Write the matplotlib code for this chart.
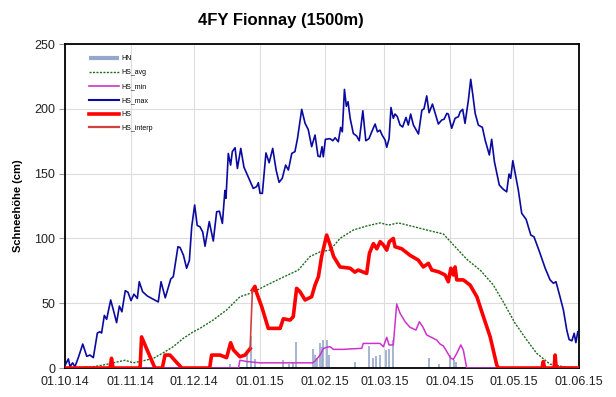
import numpy as np
import matplotlib
matplotlib.use("Agg")
import matplotlib.pyplot as plt

plt.rcParams['font.family'] = ['Liberation Sans', 'DejaVu Sans']

# days since 01.10.2014
month_days = [0, 31, 61, 92, 123, 151, 182, 212, 243]
month_labels = ['01.10.14', '01.11.14', '01.12.14', '01.01.15', '01.02.15',
                '01.03.15', '01.04.15', '01.05.15', '01.06.15']

hn_day = [78, 86.2, 87.8, 89.8, 102.9, 106, 107.9, 109.2, 117.4, 118.2, 119, 120.6,
          121.3, 122.1, 123.7, 125, 137.1, 143.9, 145.8, 147.1, 148.9, 151.8, 153.3,
          155.2, 172, 177, 182, 183.9, 184.9]
hn = [3, 11, 25, 7, 6, 3, 5, 20, 15, 10, 8, 19, 16, 22, 22, 10, 5, 17, 8, 9, 10, 14,
      15, 22, 8, 3, 10, 6, 5]

avg_day = [0, 13.4, 18, 22.8, 28.4, 32.3, 37, 41.8, 46.5, 51.2, 56, 60.7, 63.8, 70,
           76.4, 82.7, 88.3, 95.4, 101.7, 110.3, 115.8, 120.6, 125.3, 130, 136.3,
           142.6, 149, 152.9, 157.6, 166.3, 171, 178.9, 183.6, 189.9, 196.6, 202.5,
           207.2, 212.6, 218.3, 223, 229.3, 235.6, 243]
hs_avg = [0, 1, 2.3, 4, 6, 4, 5.6, 7.5, 11.8, 16.5, 23, 28, 30.6, 37, 44.8, 55, 58,
          64, 69, 75.6, 86, 89.7, 91, 100, 106.5, 109.6, 112, 110.3, 112, 108.5,
          106.5, 103.4, 95, 84, 75, 64, 51, 35, 21.6, 11.3, 3, 1, 0.3]

min_day = [0, 82, 82.7, 85.9, 92.2, 117, 118, 120.6, 122.1, 123.7, 125.3, 126.9,
           131.6, 140.3, 141, 148.9, 150.5, 152.1, 153.2, 155.2, 156.8, 158.4, 160.8,
           163.1, 165.9, 167.5, 169.1, 171, 175.7, 177.3, 178.9, 180.8, 182.4, 183.6,
           185.2, 187.1, 188.3, 189.9, 243]
hs_min = [0, 0, 6, 5, 4, 4, 5, 10, 15, 16, 16.5, 14.4, 14.4, 15.2, 19, 19, 16.4,
          23.7, 17.8, 17.8, 49.4, 42.2, 35.7, 31.4, 29.3, 35.7, 31.9, 25.5, 21.6,
          18.5, 17, 11.8, 7.5, 6.7, 11.3, 17.8, 13.9, 0, 0]

max_day = [0, 1.6, 2.4, 3.6, 4.7, 6.3, 8.4, 10.3, 11.8, 13.4, 15.3, 16.5, 17.3, 18.6,
           19.7, 21.6, 23.2, 24.4, 25.7, 26.9, 28.5, 29.8, 31.2, 32.6, 34.2, 35.1,
           36.7, 38.9, 41, 44.1, 45.4, 47.4, 50, 51.2, 53.4, 54.4, 56, 57.5, 58.8,
           59.9, 61.3, 62.5, 63.8, 65.1, 66.2, 68.2, 70.1, 71.7, 73, 74.4, 75.6, 76.1,
           77.2, 78.3, 79.1, 80.4, 81.5, 83.1, 84.6, 86.2, 89, 90.6, 91.4, 92.2, 93.3,
           95, 96.5, 98.2, 99.8, 101.2, 102.7, 104.3, 105.6, 107.2, 108.7, 109.9,
           111.9, 113.5, 115, 116.6, 118.2, 119.6, 120.6, 121.5, 122.1, 123.1, 125.3,
           126.6, 127.7, 129.2, 130.3, 131.1, 132.1, 133, 133.8, 134.8, 136.3, 137.9,
           139.1, 140.8, 142.2, 143.7, 145, 146.6, 147.7, 148.9, 149.9, 151.3, 152.1,
           153.2, 154.1, 155.2, 156, 157.1, 158.4, 159.6, 161.2, 162.3, 163.4, 164.7,
           167.1, 168.7, 169.7, 171, 172.1, 173.7, 175.3, 176.5, 178.1, 179.2, 180.5,
           181.2, 182.8, 184.4, 186, 186.8, 188, 189.1, 190.7, 191.8, 192.8, 193.9,
           195.4, 197.3, 198.6, 200.6, 201.7, 203, 205.3, 207.2, 208.8, 209.9, 210.7,
           211.7, 213.1, 214.3, 215.9, 218, 220.2, 221.7, 224.3, 227, 229.3, 230.9,
           232.1, 234, 235.6, 237.2, 238.3, 239.6, 240.7, 241.5, 242.4]
hs_max = [2, 7, 1, 4, 1, 8, 18.5, 9, 10, 8, 27, 28, 27, 40.6, 37.6, 52.5, 42.7, 35,
          47.8, 43.4, 59.7, 58.4, 52, 57, 53.7, 66.6, 58.9, 55.6, 53.7, 51, 66.6, 54.2,
          68.7, 70.5, 93.6, 93, 87, 77, 83, 109, 125.8, 110, 109, 105, 94, 113, 98,
          120.6, 121, 111.6, 137, 131, 165.6, 156.6, 167, 170, 154, 169.5, 155, 149,
          138.6, 140, 143, 134.8, 134.8, 166, 158.4, 169.5, 152.8, 143.3, 146.4, 156.6,
          152.8, 165.6, 167, 177, 199.6, 188.8, 184, 170.8, 179.8, 163.6, 163, 170.8,
          163, 176.5, 177, 175.4, 177.7, 174.6, 185.7, 182.3, 215, 202, 205.5, 192.7,
          181, 179, 175.4, 198.5, 175.4, 177, 182.3, 188.3, 182.3, 183.6, 179.8, 176,
          170.3, 177, 201, 192.7, 196, 194, 187.5, 186, 193.4, 187.5, 196, 187.5,
          180.6, 199, 200, 210, 197, 203.7, 195, 188.3, 191.4, 192, 196.5, 196, 185,
          192.7, 194, 197.8, 199.6, 188.8, 206.8, 222.8, 210.6, 196.5, 187.5, 185.7,
          176, 164.4, 176.5, 159.2, 141.2, 137.9, 136, 149.7, 146.4, 160, 147.6,
          137.3, 119.4, 114.7, 102.6, 101.3, 89.7, 77, 68, 65.4, 66.6, 55, 44.8, 29.3,
          22, 21, 26.8, 19.6, 28]

hs_day = [0, 21.3, 22, 22.7, 35.5, 36.2, 42.5, 46, 47.3, 49.6, 55.2, 68.4, 69.3, 73.3,
          76.4, 78.3, 79.6, 82.7, 85.1, 87.5, np.nan, 88.6, 89.8, 90.6, 93, 96.1,
          101.7, 103.2, 106.4, 107.9, 109.5, 111.1, 113.5, 116.6, 118.2, 119.8, 121.3,
          123.7, 125.3, 127, 130, 134.8, 137, 138.6, 142.6, 143.9, 145.8, 147.4, 149,
          150.5, 152.1, 153.3, 155.2, 156, 159.2, 163.1, 167, 169.4, 171.8, 173.4,
          176.5, 179.7, 181.2, 182.4, 183.6, 184.4, 185.2, 188.3, 191.5, 194.7, 197.8,
          201, 204.1, 204.9, 225.5, 226.1, 226.7, 231.2, 231.7, 232.2, 243]
hs = [0, 0, 7.5, 0, 0, 24, 0, 0, 10, 10, 0, 0, 10, 10, 8, 19.5, 14, 8.7, 10, 15,
      np.nan, 60, 63, 58, 47.3, 30.6, 30.6, 38, 37, 39.6, 61.5, 58.9, 52.5, 55, 64,
      70.5, 86, 102.6, 95, 86, 78, 77, 74, 75.6, 73, 88.5, 96, 92, 97.5, 95, 91, 97.5,
      100, 93.6, 92, 87, 83.3, 78, 80.8, 75.6, 74.3, 71.8, 66.6, 77, 71.8, 78, 68, 68,
      64, 55, 39.6, 24, 2.3, 0, 0, 5, 0, 0, 10, 0, 0]

interp_day = [87.5, 88.6]
hs_interp = [15, 60]

fig = plt.figure(figsize=(6.16, 3.97), dpi=100)
ax = fig.add_axes([0.1055, 0.073, 0.8345, 0.816])

ax.vlines(hn_day, 0, hn, color='#95A8CC', lw=1.2, label='HN', zorder=2)
ax.plot(avg_day, hs_avg, color='#1E6B1E', lw=1, ls=(0, (1.5, 1)), label='HS_avg', zorder=3)
ax.plot(min_day, hs_min, color='#CC33CC', lw=1.1, label='HS_min', zorder=3)
ax.plot(max_day, hs_max, color='#0A0AA0', lw=1.2, label='HS_max', zorder=4)
ax.plot(hs_day, hs, color='#FF0000', lw=2.6, label='HS', zorder=5)
ax.plot(interp_day, hs_interp, color='#D04040', lw=1.2, label='HS_interp', zorder=5)

ax.set_xlim(0, 243)
ax.set_ylim(0, 250)
ax.set_xticks(month_days)
ax.set_xticklabels(month_labels)
ax.set_yticks([0, 50, 100, 150, 200, 250])
ax.tick_params(axis='both', labelsize=9, colors='#222222')
ax.tick_params(axis='x', length=0, pad=6)
ax.tick_params(axis='y', length=4, color='#999999', pad=3)
ax.grid(True, color='#DDDDDD', lw=0.8)
ax.set_axisbelow(True)
for s in ax.spines.values():
    s.set_color('black')
    s.set_linewidth(1.3)

ax.set_ylabel('Schneehöhe (cm)', fontsize=8, fontweight='bold', labelpad=8)
fig.text(0.456, 0.948, '4FY Fionnay (1500m)', ha='center', va='center',
         fontsize=12, fontweight='bold')

leg = ax.legend(loc='upper left', bbox_to_anchor=(0.035, 0.985), frameon=False,
                fontsize=5, handlelength=4.3, handletextpad=0.3, labelspacing=1.0)
for h, w in zip(leg.legend_handles, [3, 1, 1.2, 1.5, 2.6, 1.6]):
    h.set_linewidth(w)

fig.savefig('out.png', dpi=100)
